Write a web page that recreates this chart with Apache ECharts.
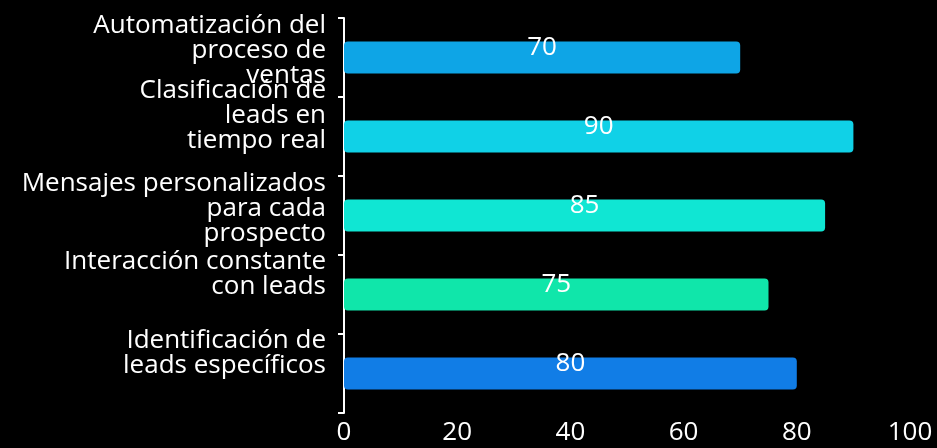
<!DOCTYPE html>
<html>
<head>
<meta charset="utf-8">
<script src="https://cdn.jsdelivr.net/npm/echarts@6/dist/echarts.min.js"></script>
<style>
html,body{margin:0;padding:0;background:#000;}
#c{width:937px;height:448px;}
</style>
</head>
<body>
<div id="c"></div>
<script>
const categories = [
  'Automatización del proceso de ventas',
  'Clasificación de leads en tiempo real',
  'Mensajes personalizados para cada prospecto',
  'Interacción constante con leads',
  'Identificación de leads específicos'
];
const tickLabels = [
  'Automatización del\nproceso de\nventas',
  'Clasificación de\nleads en\ntiempo real',
  'Mensajes personalizados\npara cada\nprospecto',
  'Interacción constante\ncon leads',
  'Identificación de\nleads específicos'
];
const values = [70, 90, 85, 75, 80];
const colors = ['#0ea5e6', '#10d1e7', '#10e6d3', '#10e6aa', '#117de6'];
const xTicks = [0, 20, 40, 60, 80, 100];

// vertical adjustment of each wrapped axis label (style only)
const labelShift = [7, 21, 7, 20, 20];

const FONT = '"Open Sans", sans-serif';
const rich = {};
labelShift.forEach((s, i) => {
  rich['p' + i] = {fontSize: 2, lineHeight: s * 2, height: s * 2};
});

const chart = echarts.init(document.getElementById('c'), null, {renderer: 'canvas'});
chart.setOption({
  backgroundColor: '#000',
  animation: false,
  grid: {left: 344, right: 27, top: 18, bottom: 35, containLabel: false},
  xAxis: {
    type: 'value',
    min: xTicks[0],
    max: xTicks[xTicks.length - 1],
    interval: xTicks[1] - xTicks[0],
    axisLine: {show: false},
    axisTick: {show: false},
    splitLine: {show: false},
    axisLabel: {color: '#fff', fontSize: 26, fontFamily: FONT, margin: 7}
  },
  yAxis: {
    type: 'category',
    inverse: true,
    data: categories,
    axisLine: {show: true, lineStyle: {color: '#fff', width: 2}},
    axisTick: {show: true, length: 6, lineStyle: {color: '#fff', width: 2}},
    splitLine: {show: false},
    axisLabel: {
      interval: 0,
      hideOverlap: false,
      color: '#fff', fontSize: 26, fontFamily: FONT, lineHeight: 25, margin: 18,
      align: 'right',
      rich: rich,
      formatter: (v) => {
        const i = categories.indexOf(v);
        return tickLabels[i] + '\n{p' + i + '| }';
      }
    }
  },
  series: [{
    type: 'bar',
    barWidth: 32,
    data: values.map((v, i) => ({value: v, itemStyle: {color: colors[i]}})),
    itemStyle: {borderRadius: 4},
    label: {
      show: true, position: 'inside', offset: [0, -10],
      color: '#fff', fontSize: 26, fontFamily: FONT
    }
  }]
});
</script>
</body>
</html>
